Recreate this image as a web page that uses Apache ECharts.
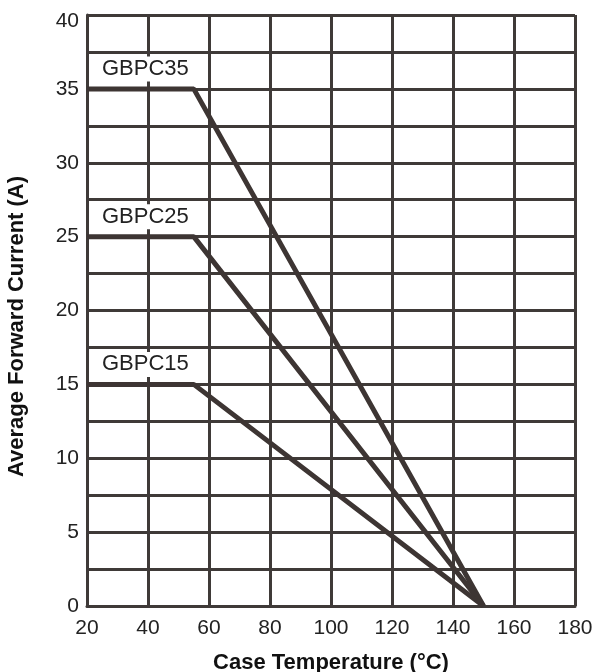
<!DOCTYPE html>
<html>
<head>
<meta charset="utf-8">
<script src="https://cdn.jsdelivr.net/npm/echarts@6/dist/echarts.min.js"></script>
<style>
  html, body { margin: 0; padding: 0; background: #fff; }
  #main { width: 596px; height: 672px; }
</style>
</head>
<body>
<div id="main"></div>
<script>
  // derating curves
  var seriesNames = ['GBPC35', 'GBPC25', 'GBPC15'];
  var tempPoints = [20, 55, 150];
  var gbpc35 = [35, 35, 0];
  var gbpc25 = [25, 25, 0];
  var gbpc15 = [15, 15, 0];
  var allValues = [gbpc35, gbpc25, gbpc15];

  var lineColor = '#3d3533';
  var gridColor = '#3f3a38';
  var fontFam = 'Arial, "Liberation Sans", sans-serif';

  function buildData(vals){
    var out = [];
    for (var i = 0; i < tempPoints.length; i++) {
      var item = { value: [tempPoints[i], vals[i]] };
      if (i == 0) item.label = { show: true };
      out.push(item);
    }
    return out;
  }

  var series = [];
  for (var s = 0; s < seriesNames.length; s++) {
    series.push({
      name: seriesNames[s],
      type: 'line',
      data: buildData(allValues[s]),
      symbol: 'circle',
      symbolSize: 0,
      showSymbol: true,
      lineStyle: { color: lineColor, width: 5 },
      itemStyle: { color: lineColor },
      label: {
        show: false,
        formatter: '{a}',
        position: 'right',
        distance: 5,
        offset: [6, -20],
        color: '#222',
        fontSize: 22,
        fontFamily: fontFam,
        backgroundColor: '#fff',
        padding: [2, 4, 1, 4]
      },
      emphasis: { disabled: true },
      z: 3
    });
  }

  var myChart = echarts.init(document.getElementById('main'));
  var option = {
    animation: false,
    grid: { left: 87, right: 21, top: 15, bottom: 66, containLabel: false, outerBoundsMode: 'none' },
    xAxis: {
      type: 'value',
      min: 20,
      max: 180,
      interval: 20,
      name: 'Case Temperature (°C)',
      nameLocation: 'middle',
      nameGap: 46,
      nameTextStyle: { fontSize: 22, fontWeight: 'bold', color: '#111', fontFamily: fontFam },
      axisLine: { show: true, lineStyle: { color: gridColor, width: 3 } },
      axisTick: { show: false },
      axisLabel: { fontSize: 21, color: '#222', margin: 12, fontFamily: fontFam },
      splitLine: { show: true, lineStyle: { color: gridColor, width: 3 } }
    },
    yAxis: {
      type: 'value',
      min: 0,
      max: 40,
      interval: 5,
      name: 'Average Forward Current (A)',
      nameLocation: 'middle',
      nameGap: 59,
      nameTextStyle: { fontSize: 22, fontWeight: 'bold', color: '#111', fontFamily: fontFam, padding: [0, 32, 0, 0] },
      axisLine: { show: true, lineStyle: { color: gridColor, width: 3 } },
      axisTick: { show: false },
      axisLabel: {
        fontSize: 21, color: '#222', margin: 8, fontFamily: fontFam,
        formatter: function(v){ return v == 40 ? '{top|' + v + '}' : String(v); },
        rich: { top: { fontSize: 21, color: '#222', fontFamily: fontFam, padding: [12, 0, 0, 0] } }
      },
      splitLine: { show: true, lineStyle: { color: gridColor, width: 3 } },
      minorTick: { show: false, splitNumber: 2 },
      minorSplitLine: { show: true, lineStyle: { color: gridColor, width: 3 } }
    },
    series: series
  };
  myChart.setOption(option);
</script>
</body>
</html>
